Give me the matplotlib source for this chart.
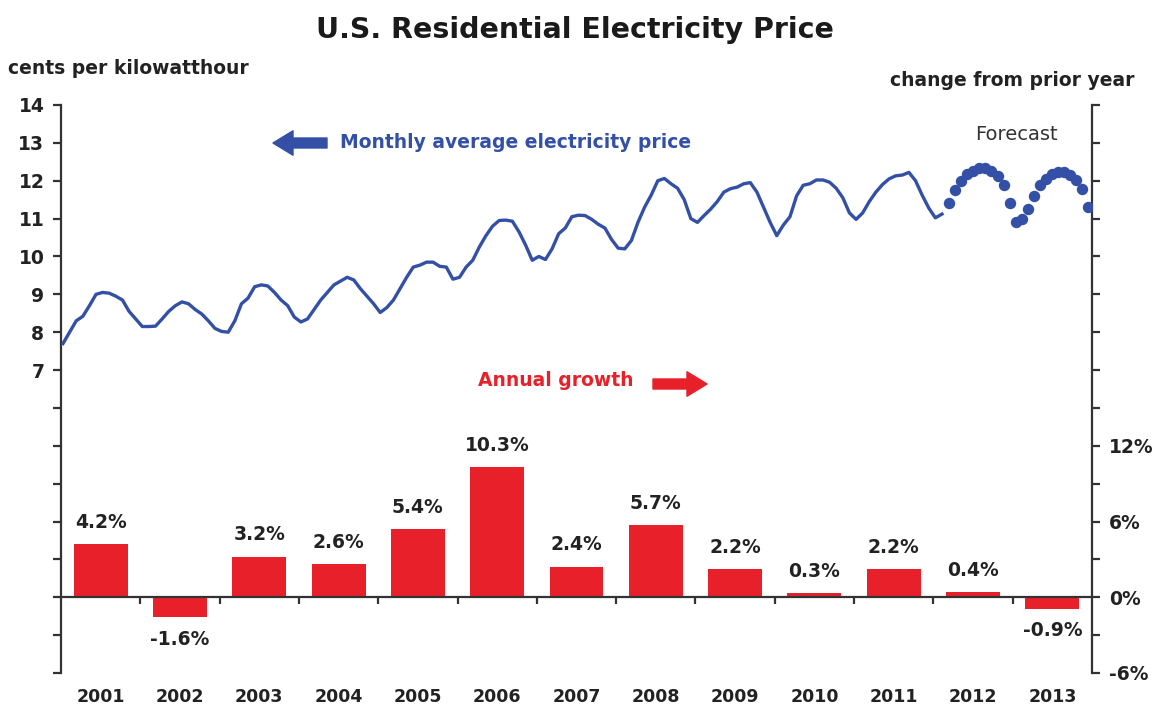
import numpy as np
import matplotlib
matplotlib.use("Agg")
import matplotlib.pyplot as plt
from matplotlib.ticker import FixedLocator, FuncFormatter

# ---------------- data ----------------
years = ["2001", "2002", "2003", "2004", "2005", "2006", "2007",
         "2008", "2009", "2010", "2011", "2012", "2013"]
annual_growth = [4.2, -1.6, 3.2, 2.6, 5.4, 10.3, 2.4, 5.7, 2.2, 0.3, 2.2, 0.4, -0.9]

# monthly average price (cents/kWh), Jan 2001 onward (history)
price_2001 = [7.70, 8.00, 8.30, 8.42, 8.70, 9.00, 9.05, 9.03, 8.95, 8.85, 8.55, 8.35]
price_2002 = [8.15, 8.15, 8.16, 8.35, 8.55, 8.70, 8.80, 8.75, 8.60, 8.48, 8.30, 8.10]
price_2003 = [8.02, 8.00, 8.30, 8.75, 8.90, 9.20, 9.25, 9.22, 9.05, 8.85, 8.70, 8.40]
price_2004 = [8.27, 8.35, 8.60, 8.85, 9.05, 9.25, 9.35, 9.45, 9.38, 9.15, 8.95, 8.75]
price_2005 = [8.52, 8.65, 8.85, 9.15, 9.45, 9.72, 9.77, 9.85, 9.85, 9.74, 9.72, 9.40]
price_2006 = [9.45, 9.72, 9.90, 10.25, 10.55, 10.80, 10.95, 10.96, 10.93, 10.65, 10.30, 9.90]
price_2007 = [10.00, 9.92, 10.20, 10.60, 10.75, 11.05, 11.09, 11.08, 10.98, 10.85, 10.75, 10.45]
price_2008 = [10.22, 10.20, 10.42, 10.90, 11.30, 11.62, 12.00, 12.06, 11.92, 11.80, 11.50, 11.00]
price_2009 = [10.90, 11.08, 11.25, 11.45, 11.70, 11.79, 11.83, 11.92, 11.95, 11.70, 11.30, 10.90]
price_2010 = [10.55, 10.83, 11.05, 11.60, 11.88, 11.92, 12.02, 12.02, 11.96, 11.80, 11.55, 11.15]
price_2011 = [10.98, 11.15, 11.45, 11.70, 11.90, 12.05, 12.13, 12.15, 12.22, 12.00, 11.62, 11.28]
price_2012_hist = [11.02, 11.12]

# forecast (dotted), 24 points
forecast = [11.40, 11.75, 12.00, 12.17, 12.27, 12.34, 12.33, 12.25, 12.12, 11.88, 11.40, 10.90,
            11.00, 11.25, 11.60, 11.88, 12.05, 12.17, 12.23, 12.23, 12.16, 12.02, 11.78, 11.30]

history = (price_2001 + price_2002 + price_2003 + price_2004 + price_2005 + price_2006 +
           price_2007 + price_2008 + price_2009 + price_2010 + price_2011 + price_2012_hist)

# ---------------- style ----------------
BLUE = "#3350A6"
RED = "#E8202A"
DARK = "#222222"
plt.rcParams["font.family"] = ["DejaVu Sans"]

fig = plt.figure(figsize=(11.56, 7.17), dpi=100)
ax = fig.add_axes([61 / 1156, 1 - 673 / 717, (1092 - 61) / 1156, (673 - 105) / 717])
ax2 = ax.twinx()

n = len(years)
xcat = np.arange(n)

# bars on the right (percent) axis
bars = ax2.bar(xcat, annual_growth, width=0.68, color=RED, zorder=2)
ax2.bar_label(bars, labels=[f"{v}%" for v in annual_growth], padding=9,
              fontsize=13.5, fontweight="bold", color=DARK)
ax2.set_ylim(-6, 39)

# price line on the left axis
m_hist = np.arange(len(history))
x_hist = -0.5 + (m_hist + 0.3) / 12.0
ax.plot(x_hist, history, color=BLUE, lw=2.4, zorder=3)
x_fc = np.linspace(10.70, 12.45, len(forecast))
ax.plot(x_fc, forecast, linestyle="none", marker="o", markersize=7.2,
        color=BLUE, markeredgecolor=BLUE, zorder=3)
ax.set_ylim(-1, 14)
ax.set_xlim(-0.5, n - 0.5)
ax.set_zorder(ax2.get_zorder() + 1)
ax.patch.set_visible(False)

# ---------- spines/ticks ----------
for a in (ax, ax2):
    a.spines["top"].set_visible(False)
    for s in a.spines.values():
        s.set_color("#333333")
        s.set_linewidth(1.6)
ax2.spines["bottom"].set_visible(False)
ax2.spines["left"].set_visible(False)
ax.spines["right"].set_visible(False)
ax.spines["bottom"].set_position(("data", 1.0))

ax.yaxis.set_major_locator(FixedLocator(np.arange(-1, 15, 1)))
ax.yaxis.set_major_formatter(FuncFormatter(lambda v, p: f"{int(round(v))}" if v >= 7 else ""))
ax.tick_params(axis="y", direction="out", length=6, width=1.6, color="#333333",
               labelsize=13.5, labelcolor=DARK, pad=6)
for lab in ax.get_yticklabels():
    lab.set_fontweight("bold")

ax2.yaxis.set_major_locator(FixedLocator(np.arange(-6, 40, 3)))
ax2.yaxis.set_major_formatter(FuncFormatter(
    lambda v, p: f"{int(round(v))}%" if int(round(v)) in (-6, 0, 6, 12) else ""))
ax2.tick_params(axis="y", direction="out", length=6, width=1.6, color="#333333",
                labelsize=13.5, labelcolor=DARK, pad=6)
for lab in ax2.get_yticklabels():
    lab.set_fontweight("bold")

ax.xaxis.set_major_locator(FixedLocator(xcat))
ax.set_xticklabels(years, fontsize=12.5, fontweight="bold", color=DARK)
ax.xaxis.set_minor_locator(FixedLocator(np.arange(0.5, n - 0.5, 1)))
ax.tick_params(axis="x", which="major", length=0, pad=65)
ax.tick_params(axis="x", which="minor", direction="out", length=5, width=1.6, color="#333333")

# ---------- texts ----------
def fp(x, y):
    return (x / 1156, 1 - y / 717)

fig.text(*fp(575, 30), "U.S. Residential Electricity Price", ha="center", va="center",
         fontsize=20.5, fontweight="bold", color="#1a1a1a")
fig.text(*fp(8, 68), "cents per kilowatthour", ha="left", va="center",
         fontsize=13.5, fontweight="bold", color=DARK)
fig.text(*fp(1135, 80), "change from prior year", ha="right", va="center",
         fontsize=13.5, fontweight="bold", color=DARK)
fig.text(*fp(340, 143), "Monthly average electricity price", ha="left", va="center",
         fontsize=13.5, fontweight="bold", color=BLUE)
fig.text(*fp(478, 381), "Annual growth", ha="left", va="center",
         fontsize=13.5, fontweight="bold", color=RED)
fig.text(*fp(975, 135), "Forecast", ha="left", va="center",
         fontsize=14, color="#333333")

ax.annotate("", xy=fp(273, 143), xytext=fp(327, 143), xycoords="figure fraction",
            textcoords="figure fraction",
            arrowprops=dict(arrowstyle="simple,head_width=1.1,head_length=0.9,tail_width=0.45",
                            color=BLUE, mutation_scale=16, shrinkA=0, shrinkB=0))
ax.annotate("", xy=fp(707, 384), xytext=fp(653, 384), xycoords="figure fraction",
            textcoords="figure fraction",
            arrowprops=dict(arrowstyle="simple,head_width=1.1,head_length=0.9,tail_width=0.45",
                            color=RED, mutation_scale=16, shrinkA=0, shrinkB=0))

fig.savefig("out.png", dpi=100)
